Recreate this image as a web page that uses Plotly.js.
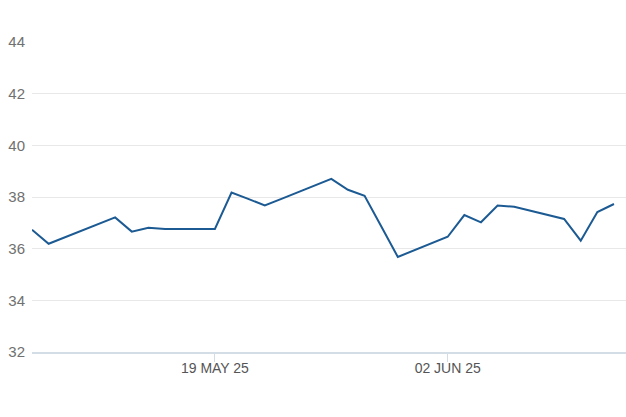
<!DOCTYPE html>
<html>
<head>
<meta charset="utf-8">
<script src="https://cdn.plot.ly/plotly-3.0.1.min.js"></script>
<style>
  html, body { margin: 0; padding: 0; background: #ffffff; }
  #chart { width: 626px; height: 417px; }
</style>
</head>
<body>
<div id="chart"></div>
<script>
const dates = [
  "2025-05-08", "2025-05-09", "2025-05-13", "2025-05-14", "2025-05-15", "2025-05-16",
  "2025-05-19", "2025-05-20", "2025-05-21", "2025-05-22", "2025-05-23",
  "2025-05-26", "2025-05-27", "2025-05-28", "2025-05-29", "2025-05-30",
  "2025-06-02", "2025-06-03", "2025-06-04", "2025-06-05", "2025-06-06",
  "2025-06-09", "2025-06-10", "2025-06-11", "2025-06-12"
];
const values = [
  36.73, 36.19, 37.21, 36.66, 36.81, 36.76,
  36.76, 38.17, 37.93, 37.67, 37.93,
  38.70, 38.28, 38.05, 36.87, 35.68,
  36.46, 37.30, 37.02, 37.67, 37.62,
  37.15, 36.31, 37.42, 37.73
];
const xTickVals = ["2025-05-19", "2025-06-02"];
const xTickText = ["19 MAY 25", "02 JUN 25"];
const yTickVals = [32, 34, 36, 38, 40, 42, 44];

const trace = {
  x: dates,
  y: values,
  type: "scatter",
  mode: "lines",
  line: { color: "#1c5a93", width: 2 },
  hoverinfo: "skip"
};

const layout = {
  width: 626,
  height: 417,
  margin: { l: 32, r: 0, t: 42, b: 65 },
  paper_bgcolor: "#ffffff",
  plot_bgcolor: "#ffffff",
  showlegend: false,
  xaxis: {
    type: "date",
    range: ["2025-05-08", "2025-06-12 17:20"],
    tickvals: xTickVals,
    ticktext: xTickText,
    showgrid: false,
    zeroline: false,
    showline: true,
    linecolor: "#d3dde6",
    linewidth: 2,
    ticks: "outside",
    ticklen: 8,
    tickwidth: 1,
    tickcolor: "#d3dde6",
    ticklabelstandoff: -6,
    tickfont: { family: "Liberation Sans Narrow, Arial, Liberation Sans, sans-serif", size: 14, color: "#555555" },
    fixedrange: true
  },
  yaxis: {
    range: [32, 44],
    tickvals: yTickVals,
    showgrid: true,
    gridcolor: "#e8e8e8",
    gridwidth: 1,
    zeroline: false,
    showline: false,
    ticks: "",
    ticklabelstandoff: 6,
    tickfont: { family: "Arial, Liberation Sans, sans-serif", size: 15, color: "#707070" },
    fixedrange: true
  }
};

Plotly.newPlot("chart", [trace], layout, { displayModeBar: false, staticPlot: true });
</script>
</body>
</html>
